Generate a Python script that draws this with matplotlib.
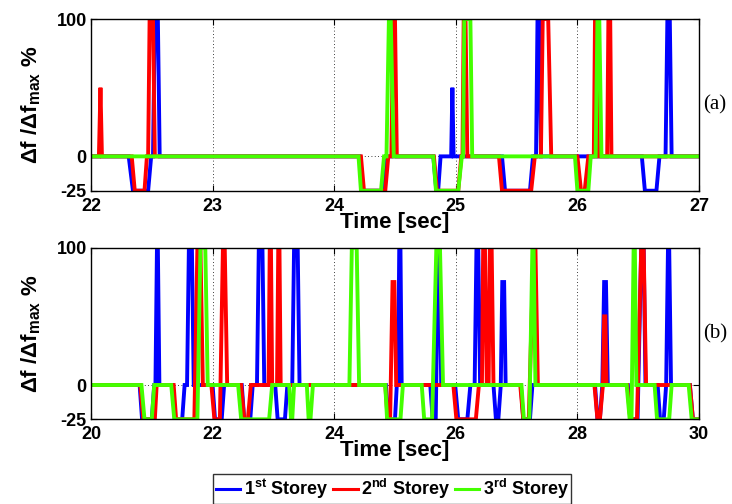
import matplotlib
matplotlib.use("Agg")
import matplotlib.pyplot as plt
from matplotlib.lines import Line2D

plt.rcParams["font.family"] = ["Liberation Sans", "DejaVu Sans"]
plt.rcParams["font.weight"] = "bold"
plt.rcParams["axes.unicode_minus"] = False
plt.rcParams["mathtext.fontset"] = "custom"
plt.rcParams["mathtext.rm"] = "Liberation Sans:bold"
plt.rcParams["mathtext.bf"] = "Liberation Sans:bold"
plt.rcParams["mathtext.it"] = "Liberation Sans:bold"
plt.rcParams["mathtext.default"] = "bf"

# ---- panel (a): 22-27 s, breakpoints (time [s], value [%]) ----
a_blue_t = [22.0, 22.31, 22.345, 22.47, 22.495, 22.51, 22.525, 22.55, 22.565,
            24.21, 24.235, 24.40, 24.43,
            24.815, 24.84, 24.855, 24.875, 24.962, 24.972, 24.982,
            25.38, 25.405, 25.61, 25.635, 25.66, 25.672, 25.688, 25.70,
            26.53, 26.555, 26.65, 26.675, 26.725, 26.74, 26.76, 26.775, 27.0]
a_blue_v = [0, 0, -25, -25, 0, 0, 100, 100, 0,
            0, -25, -25, 0,
            0, -25, -25, 0, 0, 50, 0,
            0, -25, -25, 0, 0, 100, 100, 0,
            0, -25, -25, 0, 0, 100, 100, 0, 0]

a_red_t = [22.0, 22.065, 22.078, 22.09, 22.335, 22.36, 22.44, 22.46, 22.47, 22.482, 22.51, 22.525,
           24.22, 24.245, 24.42, 24.445, 24.47, 24.485, 24.50, 24.515,
           24.82, 24.845, 25.02, 25.045, 25.055, 25.065, 25.08, 25.095,
           25.355, 25.38, 25.62, 25.65, 25.70, 25.715, 25.76, 25.785,
           26.0, 26.03, 26.06, 26.09, 26.135, 26.145, 26.16, 26.17,
           26.245, 26.255, 26.27, 26.28, 27.0]
a_red_v = [0, 0, 50, 0, 0, -25, -25, 0, 0, 100, 100, 0,
           0, -25, -25, 0, 0, 100, 100, 0,
           0, -25, -25, 0, 0, 100, 100, 0,
           0, -25, -25, 0, 0, 100, 100, 0,
           0, -25, -25, 0, 0, 100, 100, 0,
           0, 100, 100, 0, 0]

a_green_t = [22.0, 24.20, 24.22, 24.385, 24.41, 24.43, 24.45, 24.465, 24.49,
             24.815, 24.837, 25.02, 25.05, 25.06, 25.07, 25.12, 25.135,
             25.98, 26.0, 26.09, 26.11, 26.15, 26.165, 26.18, 26.198, 27.0]
a_green_v = [0, 0, -25, -25, 0, 0, 100, 100, 0,
             0, -25, -25, 0, 0, 100, 100, 0,
             0, -25, -25, 0, 0, 100, 100, 0, 0]

# ---- panel (b): 20-30 s ----
b_blue_t = [20.0, 20.80, 20.84, 21.00, 21.04, 21.06, 21.085, 21.10, 21.125,
            21.34, 21.38, 21.50, 21.54, 21.58, 21.61, 21.66, 21.69,
            22.0, 22.04, 22.15, 22.19,
            22.48, 22.52, 22.62, 22.66, 22.73, 22.76, 22.82, 22.85,
            23.03, 23.07, 23.19, 23.23, 23.31, 23.34, 23.40, 23.43,
            24.85, 24.89, 25.00, 25.03, 25.05, 25.07, 25.09, 25.11,
            25.58, 25.62, 25.67, 25.71, 25.73, 25.76,
            25.99, 26.04, 26.19, 26.24, 26.31, 26.34, 26.37, 26.40,
            26.62, 26.66, 26.70, 26.74, 26.765, 26.795, 26.82,
            27.07, 27.11, 27.22, 27.26,
            28.29, 28.33, 28.37, 28.41, 28.44, 28.47, 28.50,
            28.83, 28.87, 28.99, 29.05, 29.09, 29.12,
            29.32, 29.36, 29.42, 29.46, 29.49, 29.51, 29.54,
            29.85, 29.90, 30.0]
b_blue_v = [0, 0, -25, -25, 0, 0, 100, 100, 0,
            0, -25, -25, 0, 0, 100, 100, 0,
            0, -25, -25, 0,
            0, -25, -25, 0, 0, 100, 100, 0,
            0, -25, -25, 0, 0, 100, 100, 0,
            0, -25, -25, 0, 0, 100, 100, 0,
            0, -25, -25, 100, 100, 0,
            0, -25, -25, 0, 0, 100, 100, 0,
            0, -25, -25, 0, 75, 75, 0,
            0, -25, -25, 0,
            0, -25, -25, 0, 75, 75, 0,
            0, -25, -25, 100, 100, 0,
            0, -25, -25, 0, 100, 100, 0,
            0, -25, -25]

b_red_t = [20.0, 20.81, 20.86, 21.05, 21.08,
           21.36, 21.40, 21.70, 21.75, 21.80, 21.84,
           21.98, 22.03, 22.12, 22.17, 22.20, 22.24,
           22.47, 22.52, 22.58, 22.63, 22.92, 22.94, 22.96, 22.98,
           23.06, 23.08, 23.10, 23.12,
           24.84, 24.88, 24.92, 24.96, 24.99, 25.02,
           25.96, 26.01, 26.33, 26.38, 26.43, 26.45, 26.48, 26.51,
           26.54, 26.56, 26.59, 26.62,
           27.06, 27.11, 27.20, 27.28, 27.31, 27.35,
           28.28, 28.33, 28.37, 28.42, 28.44, 28.46, 28.48,
           28.82, 28.87, 28.98, 29.05, 29.09, 29.13,
           29.85, 29.90, 30.0]
b_red_v = [0, 0, -25, -25, 0,
           0, -25, -25, 100, 100, 0,
           0, -25, -25, 100, 100, 0,
           0, -25, -25, 0, 0, 100, 100, 0,
           0, 100, 100, 0,
           0, -25, -25, 75, 75, 0,
           0, -25, -25, 0, 0, 100, 100, 0,
           0, 100, 100, 0,
           0, -25, -25, 100, 100, 0,
           0, -25, -25, 0, 50, 50, 0,
           0, -25, -25, 100, 100, 0,
           0, -25, -25]

b_green_t = [20.0, 20.83, 20.88, 21.00, 21.04,
             21.32, 21.37, 21.75, 21.80, 21.88, 21.92,
             22.42, 22.47, 22.93, 22.98,
             23.26, 23.29, 23.31, 23.34,
             23.55, 23.58, 23.61, 23.65,
             24.25, 24.29, 24.37, 24.41,
             24.84, 24.87, 25.09, 25.13,
             25.44, 25.48, 25.61, 25.68, 25.74, 25.79,
             27.08, 27.12, 27.21, 27.26, 27.28, 27.31,
             28.81, 28.86, 28.89, 28.925, 28.945, 28.97,
             29.27, 29.31, 29.51, 29.55,
             29.83, 29.88, 30.0]
b_green_v = [0, 0, -25, -25, 0,
             0, -25, -25, 100, 100, 0,
             0, -25, -25, 0,
             0, -25, -25, 0,
             0, -25, -25, 0,
             0, 100, 100, 0,
             0, -25, -25, 0,
             0, -25, -25, 100, 100, 0,
             0, -25, -25, 100, 100, 0,
             0, -25, -25, 100, 100, 0,
             0, -25, -25, 0,
             0, -25, -25]

series_labels = ["1$^{st}$ Storey", "2$^{nd}$ Storey", "3$^{rd}$ Storey"]
series_colors = ["#0000ff", "#ff0000", "#44ff00"]
y_ticks = [-25, 0, 100]
a_xticks = [22, 23, 24, 25, 26, 27]
b_xticks = [20, 22, 24, 26, 28, 30]

fig = plt.figure(figsize=(7.32, 5.04), dpi=100)
ax_a = fig.add_axes([0.1243, 0.6216, 0.8306, 0.3407])
ax_b = fig.add_axes([0.1243, 0.1680, 0.8306, 0.3405])

panels = [
    (ax_a, [(a_blue_t, a_blue_v), (a_red_t, a_red_v), (a_green_t, a_green_v)], a_xticks, "(a)"),
    (ax_b, [(b_blue_t, b_blue_v), (b_red_t, b_red_v), (b_green_t, b_green_v)], b_xticks, "(b)"),
]

for ax, data, xt, tag in panels:
    for (t, v), c in zip(data, series_colors):
        ax.plot(t, v, color=c, linewidth=2.8, solid_joinstyle="miter", zorder=3)
    ax.set_xlim(xt[0], xt[-1])
    ax.set_ylim(-25, 100)
    ax.set_xticks(xt)
    ax.set_yticks(y_ticks)
    ax.tick_params(direction="in", length=4, width=0.8, top=True, right=True,
                   labelsize=13)
    ax.tick_params(axis="x", pad=5)
    ax.tick_params(axis="y", pad=3)
    for lab in ax.get_xticklabels() + ax.get_yticklabels():
        lab.set_fontweight("bold")
    ax.grid(True, linestyle=(0, (1, 3)), color="black", linewidth=0.6, zorder=1)
    for s in ax.spines.values():
        s.set_linewidth(1.0)
        s.set_zorder(4)
    ax.set_xlabel("Time [sec]", fontsize=16, fontweight="bold", labelpad=-2)
    ax.set_ylabel("Δf /Δf$_{max}$ %", fontsize=16, fontweight="bold", labelpad=10)
    ax.text(1.007, 0.5, tag, transform=ax.transAxes, fontsize=15,
            family="Liberation Serif", fontweight="normal", va="center", ha="left")

handles = [Line2D([], [], color=c, linewidth=2.2) for c in series_colors]
leg = fig.legend(handles, series_labels, loc="center", bbox_to_anchor=(0.536, 0.030),
                 ncol=3, fontsize=13, frameon=True, fancybox=False, handlelength=1.35,
                 handletextpad=0.2, columnspacing=0.25, borderpad=0.15, borderaxespad=0)
leg.get_frame().set_edgecolor("black")
leg.get_frame().set_linewidth(1.0)
for txt in leg.get_texts():
    txt.set_fontweight("bold")

fig.savefig("out.png", dpi=100)
